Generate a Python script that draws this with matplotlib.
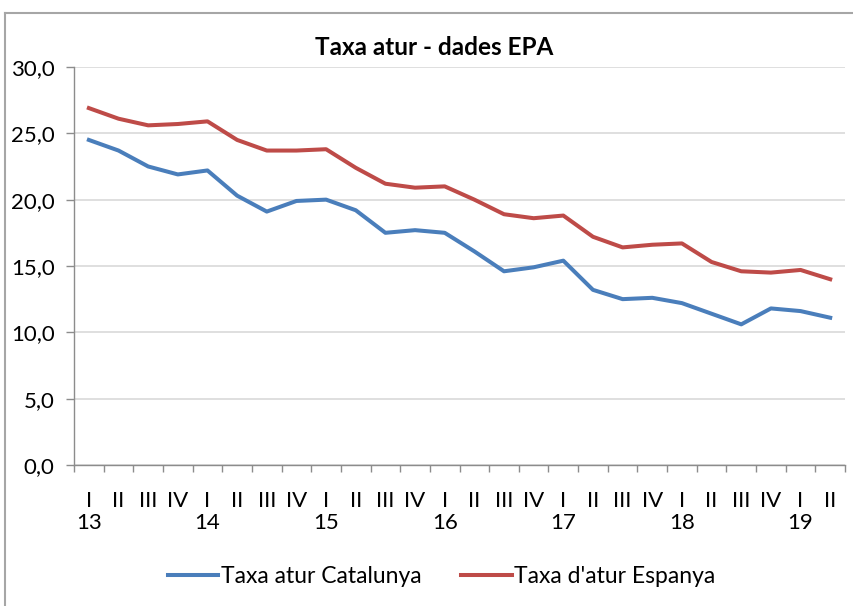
import matplotlib.pyplot as plt
from matplotlib.lines import Line2D
from matplotlib.ticker import FuncFormatter

# EPA unemployment rate, quarterly, 2013 I - 2019 II
quarters = ["I", "II", "III", "IV"] * 6 + ["I", "II"]
years = ["13", "14", "15", "16", "17", "18", "19"]

catalunya = [24.5, 23.7, 22.5, 21.9, 22.2, 20.3, 19.1, 19.9, 20.0, 19.2, 17.5, 17.7, 17.5,
             16.1, 14.6, 14.9, 15.4, 13.2, 12.5, 12.6, 12.2, 11.4, 10.6, 11.8, 11.6, 11.1]
espanya = [26.9, 26.1, 25.6, 25.7, 25.9, 24.5, 23.7, 23.7, 23.8, 22.4, 21.2, 20.9, 21.0,
           20.0, 18.9, 18.6, 18.8, 17.2, 16.4, 16.6, 16.7, 15.3, 14.6, 14.5, 14.7, 14.0]

BLUE = "#4a7ebb"
RED = "#be4b48"
GRID = "#d9d9d9"
AXIS = "#8c8c8c"

plt.rcParams["font.family"] = ["Lato", "DejaVu Sans"]

fig = plt.figure(figsize=(8.54, 6.06), dpi=100)
ax = fig.add_axes([0.0867, 0.2327, 0.9028, 0.6568])

x = list(range(len(quarters)))
ax.plot(x, catalunya, color=BLUE, lw=2.9, solid_joinstyle="round", label="Taxa atur Catalunya")
ax.plot(x, espanya, color=RED, lw=2.9, solid_joinstyle="round", label="Taxa d'atur Espanya")

ax.set_xlim(-0.5, len(quarters) - 0.5)
ax.set_ylim(0, 30)
ax.set_yticks(range(0, 31, 5))
ax.yaxis.set_major_formatter(FuncFormatter(lambda v, p: f"{v:.1f}".replace(".", ",")))
ax.grid(axis="y", color=GRID, lw=1.2)
ax.set_axisbelow(True)

# quarter labels at category centres, tick marks at the boundaries
ax.set_xticks(x)
ax.set_xticklabels(quarters)
ax.set_xticks([i - 0.5 for i in range(len(quarters) + 1)], minor=True)
ax.tick_params(axis="x", which="major", length=0, pad=19, labelsize=16)
ax.tick_params(axis="x", which="minor", length=5, color=AXIS, width=1)
ax.tick_params(axis="y", length=6, color=AXIS, width=1, pad=8, labelsize=16)

for i, yr in enumerate(years):
    ax.text(i * 4, -0.145, yr, transform=ax.get_xaxis_transform(),
            ha="center", va="center", fontsize=16)

for side in ["top", "right"]:
    ax.spines[side].set_visible(False)
for side in ["left", "bottom"]:
    ax.spines[side].set_color(AXIS)
    ax.spines[side].set_linewidth(1)

fig.text(0.509, 0.922, "Taxa atur - dades EPA", ha="center", va="center",
         fontsize=17.5, fontweight="bold")

fig.legend(loc="center", bbox_to_anchor=(0.517, 0.048), ncol=2, frameon=False,
           fontsize=16.5, handlelength=2.2, handletextpad=0.1, columnspacing=1.75)

# chart area border (top and left visible)
fig.add_artist(Line2D([5 / 854, 1.0], [1 - 13 / 606] * 2, transform=fig.transFigure,
                      color="#a6a6a6", lw=1.5))
fig.add_artist(Line2D([5 / 854] * 2, [0.0, 1 - 13 / 606], transform=fig.transFigure,
                      color="#a6a6a6", lw=1.5))

fig.savefig("out.png", dpi=100)
